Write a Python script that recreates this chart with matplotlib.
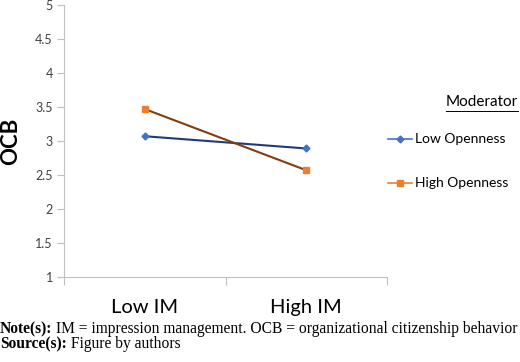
import matplotlib
matplotlib.use("Agg")
import matplotlib.pyplot as plt
from matplotlib.lines import Line2D

# data
categories = ["Low IM", "High IM"]
low_openness = [3.07, 2.89]
high_openness = [3.47, 2.57]
y_ticks = [1, 1.5, 2, 2.5, 3, 3.5, 4, 4.5, 5]
series_labels = ["Low Openness", "High Openness"]

plt.rcParams['font.family'] = ['Lato', 'DejaVu Sans']

fig = plt.figure(figsize=(5.2, 3.62), dpi=100)
ax = fig.add_axes([64/520, 1 - 277/362, (387 - 64)/520, (277 - 5)/362])

x = [0.5, 1.5]
ax.plot(x, low_openness, color="#1F3C78", lw=1.5, marker="D", ms=3.5,
        mfc="#4472C4", mec="#4472C4", zorder=3)
ax.plot(x, high_openness, color="#843C0C", lw=1.5, marker="s", ms=4.5,
        mfc="#ED7D31", mec="#ED7D31", zorder=3)

ax.set_xlim(0, 2)
ax.set_ylim(1, 5)
ax.set_yticks(y_ticks)
ax.set_yticklabels([f"{v:g}" for v in y_ticks], fontsize=9, color="#404040")
ax.set_xticks([0, 1, 2])
ax.set_xticklabels([])
ax.set_xticks(x, minor=True)
ax.set_xticklabels(categories, minor=True, fontsize=14.5, color="#000000")
ax.tick_params(axis="x", which="major", length=6, color="#BFBFBF", width=0.8)
ax.tick_params(axis="x", which="minor", length=0, pad=16)
ax.tick_params(axis="y", length=5, color="#BFBFBF", width=0.8, pad=3)

for side in ["top", "right"]:
    ax.spines[side].set_visible(False)
for side in ["left", "bottom"]:
    ax.spines[side].set_color("#BFBFBF")
    ax.spines[side].set_linewidth(0.8)

ax.set_ylabel("OCB", fontsize=16, fontweight="bold", labelpad=10)

# legend drawn by hand
fig.canvas.draw()
renderer = fig.canvas.get_renderer()
mod = fig.text(518/520, 1 - 102/362, "Moderator", fontsize=11, ha="right",
               va="center", color="#000000")
mb = mod.get_window_extent(renderer)
fig.add_artist(Line2D([mb.x0/520, mb.x1/520], [1 - 111/362, 1 - 111/362],
                      color="#000000", lw=0.7))
leg_colors = ["#4472C4", "#ED7D31"]
leg_markers = ["D", "s"]
leg_y = [139, 183]
for lab, c, m, yy in zip(series_labels, leg_colors, leg_markers, leg_y):
    fy = 1 - yy/362
    fig.add_artist(Line2D([388/520, 412/520], [fy, fy], color=c, lw=1.2))
    fig.add_artist(Line2D([400/520], [fy], color=c, marker=m,
                          ms=3.5 if m == "D" else 4, mfc=c, mec=c, lw=0))
    fig.text(415/520, fy, lab, fontsize=10, va="center", color="#000000")

# notes under the chart
serif = ['Liberation Serif', 'DejaVu Serif']
for label, rest, yy in [("Note(s):", " IM = impression management. OCB = organizational citizenship behavior", 333),
                        ("Source(s):", " Figure by authors", 348)]:
    t = fig.text(0, 1 - yy/362, label, fontsize=11.2, fontweight="bold",
                 family=serif, va="baseline")
    bb = t.get_window_extent(renderer)
    fig.text(bb.x1/fig.bbox.width, 1 - yy/362, rest, fontsize=11.2,
             family=serif, va="baseline")

fig.savefig("out.png", dpi=100)
